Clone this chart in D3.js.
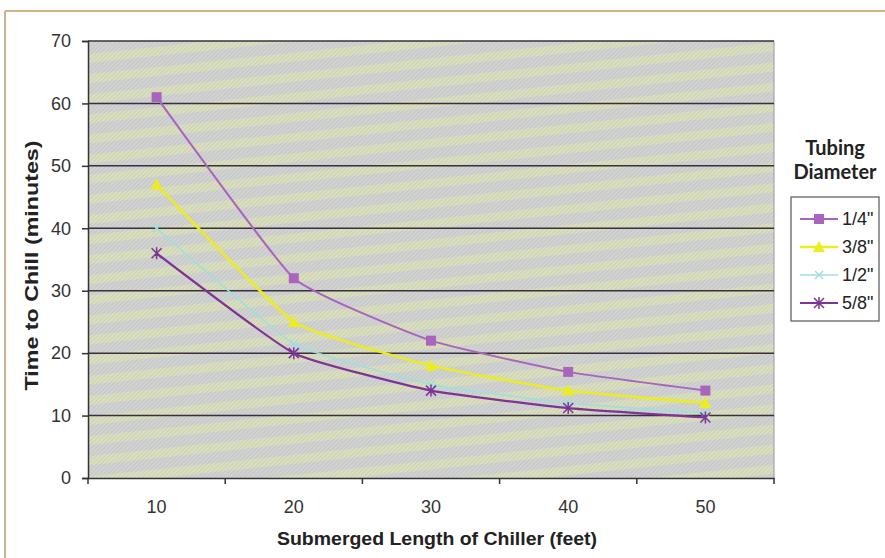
<!DOCTYPE html>
<html>
<head>
<meta charset="utf-8">
<script src="https://d3js.org/d3.v7.min.js"></script>
<style>
  body { margin: 0; background: #fff; }
  text { font-family: "Liberation Sans", Arial, sans-serif; }
</style>
</head>
<body>
<div id="chart"></div>
<script>
// data
var lengths = ["10", "20", "30", "40", "50"];
var diameters = ["1/4\"", "3/8\"", "1/2\"", "5/8\""];
var quarter   = [61, 32, 22, 17, 14];
var threeEigh = [47, 25, 18, 14, 12];
var half      = [40, 21.5, 15, 12, 10.4];
var fiveEigh  = [36, 20, 14, 11.2, 9.7];
var yTicks = [0, 10, 20, 30, 40, 50, 60, 70];

var series = [
  {name: diameters[0], values: quarter,   color: "#a964bd", width: 2,   marker: "square"},
  {name: diameters[1], values: threeEigh, color: "#ecec1e", width: 2.5, marker: "triangle"},
  {name: diameters[2], values: half,      color: "#9fe0dc", width: 1.6, marker: "x"},
  {name: diameters[3], values: fiveEigh,  color: "#7e3495", width: 2.2, marker: "star"}
];

var W = 885, H = 558;
var plot = {left: 88, right: 774, top: 41, bottom: 478};

var svg = d3.select("#chart").append("svg")
  .attr("width", W).attr("height", H);

// background pattern (scanned hatch look)
var defs = svg.append("defs");
var bands = defs.append("pattern")
  .attr("id", "bands").attr("patternUnits", "userSpaceOnUse")
  .attr("width", 60).attr("height", 20)
  .attr("patternTransform", "rotate(-6)");
bands.append("rect").attr("width", 60).attr("height", 20).attr("fill", "#d1d2d2");
bands.append("rect").attr("y", 3).attr("width", 60).attr("height", 9).attr("fill", "#dadfbf");
var hatch = defs.append("pattern")
  .attr("id", "hatch").attr("patternUnits", "userSpaceOnUse")
  .attr("width", 3).attr("height", 3)
  .attr("patternTransform", "rotate(45)");
hatch.append("rect").attr("width", 1).attr("height", 3).attr("fill", "rgba(150,150,150,0.2)");

// outer border (only top and left visible)
svg.append("line").attr("x1", 5).attr("x2", W).attr("y1", 11).attr("y2", 11)
  .attr("stroke", "#c49a62").attr("stroke-width", 1.5);
svg.append("line").attr("x1", 5).attr("x2", 5).attr("y1", 11).attr("y2", H)
  .attr("stroke", "#b89a6a").attr("stroke-width", 1.5);

var x = d3.scaleBand().domain(lengths).range([plot.left, plot.right]).padding(0);
var y = d3.scaleLinear().domain([0, 70]).range([plot.bottom, plot.top]);
function cx(i) { return x(lengths[i]) + x.bandwidth() / 2; }

// plot area
svg.append("rect")
  .attr("x", plot.left).attr("y", plot.top)
  .attr("width", plot.right - plot.left).attr("height", plot.bottom - plot.top)
  .attr("fill", "url(#bands)");
svg.append("rect")
  .attr("x", plot.left).attr("y", plot.top)
  .attr("width", plot.right - plot.left).attr("height", plot.bottom - plot.top)
  .attr("fill", "url(#hatch)");
svg.append("line")
  .attr("x1", plot.right).attr("x2", plot.right).attr("y1", plot.top).attr("y2", plot.bottom)
  .attr("stroke", "#9a9a9a").attr("stroke-width", 1);

// gridlines
svg.append("g").selectAll("line")
  .data(yTicks.slice(1))
  .enter().append("line")
    .attr("x1", plot.left).attr("x2", plot.right)
    .attr("y1", function(d) { return y(d); })
    .attr("y2", function(d) { return y(d); })
    .attr("stroke", "#3a2f3c").attr("stroke-width", 1.5);

// y axis
var yAxis = svg.append("g")
  .attr("transform", "translate(" + plot.left + ",0)")
  .call(d3.axisLeft(y).tickValues(yTicks).tickSize(6).tickPadding(11));
yAxis.select(".domain").attr("stroke", "#333").attr("stroke-width", 1.5);
yAxis.selectAll(".tick line").attr("stroke", "#333").attr("stroke-width", 1.5);
yAxis.selectAll("text").attr("fill", "#333").attr("font-size", 18);

// x axis (labels centred, ticks at category edges)
var xAxis = svg.append("g")
  .attr("transform", "translate(0," + plot.bottom + ")")
  .call(d3.axisBottom(x).tickSize(0).tickPadding(22));
xAxis.select(".domain").attr("stroke", "#333").attr("stroke-width", 1.5);
xAxis.selectAll("text").attr("fill", "#333").attr("font-size", 18);
var edges = lengths.map(function(d) { return x(d); }).concat([plot.right]);
svg.append("g").selectAll("line")
  .data(edges)
  .enter().append("line")
    .attr("x1", function(d) { return d; }).attr("x2", function(d) { return d; })
    .attr("y1", plot.bottom).attr("y2", plot.bottom + 6)
    .attr("stroke", "#333").attr("stroke-width", 1.5);

// axis titles
svg.append("text")
  .attr("transform", "translate(38," + ((plot.top + plot.bottom) / 2 + 6) + ") rotate(-90)")
  .attr("text-anchor", "middle")
  .attr("font-size", 19).attr("font-weight", "bold").attr("fill", "#222")
  .attr("textLength", 250).attr("lengthAdjust", "spacingAndGlyphs")
  .text("Time to Chill (minutes)");
svg.append("text")
  .attr("x", (plot.left + plot.right) / 2 + 6).attr("y", 545)
  .attr("text-anchor", "middle")
  .attr("font-size", 19).attr("font-weight", "bold").attr("fill", "#222")
  .attr("textLength", 320).attr("lengthAdjust", "spacingAndGlyphs")
  .text("Submerged Length of Chiller (feet)");

// markers
function drawMarker(g, type, color, px, py) {
  if (type === "square") {
    g.append("rect").attr("x", px - 5).attr("y", py - 5).attr("width", 10).attr("height", 10)
      .attr("fill", color);
  } else if (type === "triangle") {
    g.append("path")
      .attr("d", "M" + px + "," + (py - 6) + "L" + (px + 6) + "," + (py + 5) + "L" + (px - 6) + "," + (py + 5) + "Z")
      .attr("fill", color);
  } else if (type === "x") {
    g.append("path")
      .attr("d", "M" + (px - 4) + "," + (py - 4) + "L" + (px + 4) + "," + (py + 4) +
                 "M" + (px + 4) + "," + (py - 4) + "L" + (px - 4) + "," + (py + 4))
      .attr("stroke", color).attr("stroke-width", 1.5);
  } else {
    g.append("path")
      .attr("d", "M" + (px - 5) + "," + (py - 5) + "L" + (px + 5) + "," + (py + 5) +
                 "M" + (px + 5) + "," + (py - 5) + "L" + (px - 5) + "," + (py + 5) +
                 "M" + px + "," + (py - 6) + "L" + px + "," + (py + 6))
      .attr("stroke", color).attr("stroke-width", 1.5);
  }
}

// lines, lightly smoothed like the spreadsheet
var line = d3.line()
  .x(function(d, i) { return cx(i); })
  .y(function(d) { return y(d); })
  .curve(d3.curveCardinal.tension(0.6));

series.forEach(function(s) {
  var g = svg.append("g");
  g.append("path")
    .datum(s.values)
    .attr("d", line)
    .attr("fill", "none")
    .attr("stroke", s.color)
    .attr("stroke-width", s.width);
  s.values.forEach(function(v, i) {
    drawMarker(g, s.marker, s.color, cx(i), y(v));
  });
});

// legend
svg.append("text")
  .attr("x", 835).attr("y", 155).attr("text-anchor", "middle")
  .style("font-family", "Lato, 'Open Sans', sans-serif")
  .attr("font-size", 20).attr("font-weight", "bold").attr("fill", "#222")
  .text("Tubing");
svg.append("text")
  .attr("x", 835).attr("y", 179).attr("text-anchor", "middle")
  .style("font-family", "Lato, 'Open Sans', sans-serif")
  .attr("font-size", 20).attr("font-weight", "bold").attr("fill", "#222")
  .text("Diameter");

svg.append("rect")
  .attr("x", 791).attr("y", 197).attr("width", 88).attr("height", 124)
  .attr("fill", "#fff").attr("stroke", "#555").attr("stroke-width", 1.2);

var legY = d3.scalePoint().domain(diameters).range([219, 303]);
series.forEach(function(s) {
  var g = svg.append("g");
  var ly = legY(s.name);
  g.append("line").attr("x1", 800).attr("x2", 838).attr("y1", ly).attr("y2", ly)
    .attr("stroke", s.color).attr("stroke-width", s.width);
  drawMarker(g, s.marker, s.color, 819, ly);
  g.append("text").attr("x", 842).attr("y", ly + 6)
    .attr("font-size", 18).attr("fill", "#222")
    .text(s.name);
});
</script>
</body>
</html>
